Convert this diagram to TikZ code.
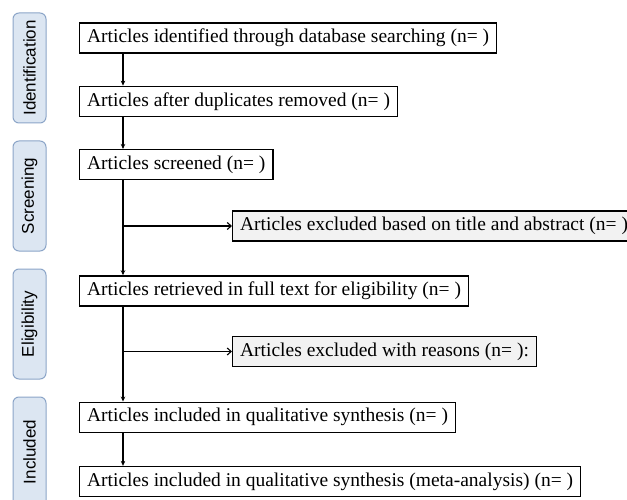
\documentclass[tikz,border=0pt]{standalone}
\usepackage{fontspec}
\setmainfont{Liberation Serif}
\setsansfont{Liberation Sans}
\usetikzlibrary{arrows.meta}
\usetikzlibrary{positioning}
\usetikzlibrary{calc}
\definecolor{phaseFill}{RGB}{220,230,242}
\definecolor{phaseLine}{RGB}{140,165,200}
\definecolor{exclFill}{RGB}{242,242,242}

\begin{document}
\begin{tikzpicture}[
    x=1pt, y=-1pt,
    node distance=32pt,
    flowBox/.style={
        rectangle, draw, line width=1.3pt,
        minimum height=30pt,
        inner xsep=7.5pt, inner ysep=0pt,
        font=\fontsize{19.5}{22}\selectfont,
        anchor=west
    },
    exclBox/.style={flowBox, fill=exclFill},
    phaseTag/.style={
        rectangle, draw=phaseLine, fill=phaseFill, line width=1pt,
        rounded corners=6pt,
        minimum width=110pt, minimum height=33pt,
        rotate=90,
        font=\sffamily\fontsize{17}{20}\selectfont
    },
    downArrow/.style={-{Stealth[length=5pt,width=4.5pt]}, line width=1.1pt},
    sideArrow/.style={-{Straight Barb[length=4pt,width=7pt]}, line width=1.1pt}
]
\useasboundingbox (0,0) rectangle (627,500);

% phase tags on the left
\node[phaseTag] (ident) at (29.5,68) {Identification};
\node[phaseTag] (screen) at (29.5,196) {Screening};
\node[phaseTag] (elig) at (29.5,324) {Eligibility};
\node[phaseTag] (incl) at (29.5,452) {Included};

% main flow
\node[flowBox] (found) at (79,38) {Articles identified through database searching (n= )};
\node[flowBox, below=of found.south west, anchor=north west] (dedup) {Articles after duplicates removed (n= )};
\node[flowBox, below=of dedup.south west, anchor=north west] (screened) {Articles screened (n= )};
\node[flowBox, below=95pt of screened.south west, anchor=north west] (fulltext) {Articles retrieved in full text for eligibility (n= )};
\node[flowBox, below=95pt of fulltext.south west, anchor=north west] (qual) {Articles included in qualitative synthesis (n= )};
\node[flowBox, below=33pt of qual.south west, anchor=north west] (meta) {Articles included in qualitative synthesis (meta-analysis) (n= )};

% exclusions
\node[exclBox] (exAbs) at (232,226) {Articles excluded based on title and abstract (n= )};
\node[exclBox] (exWhy) at (232,351.5) {Articles excluded with reasons (n= ):};

\coordinate (spine) at (123,0);
\draw[downArrow] (found.south -| spine) -- (dedup.north -| spine);
\draw[downArrow] (dedup.south -| spine) -- (screened.north -| spine);
\draw[downArrow] (screened.south -| spine) -- (fulltext.north -| spine);
\draw[downArrow] (fulltext.south -| spine) -- (qual.north -| spine);
\draw[downArrow] (qual.south -| spine) -- (meta.north -| spine);
\draw[sideArrow] (exAbs.west -| spine) -- (exAbs.west);
\draw[sideArrow] (exWhy.west -| spine) -- (exWhy.west);
\end{tikzpicture}
\end{document}
